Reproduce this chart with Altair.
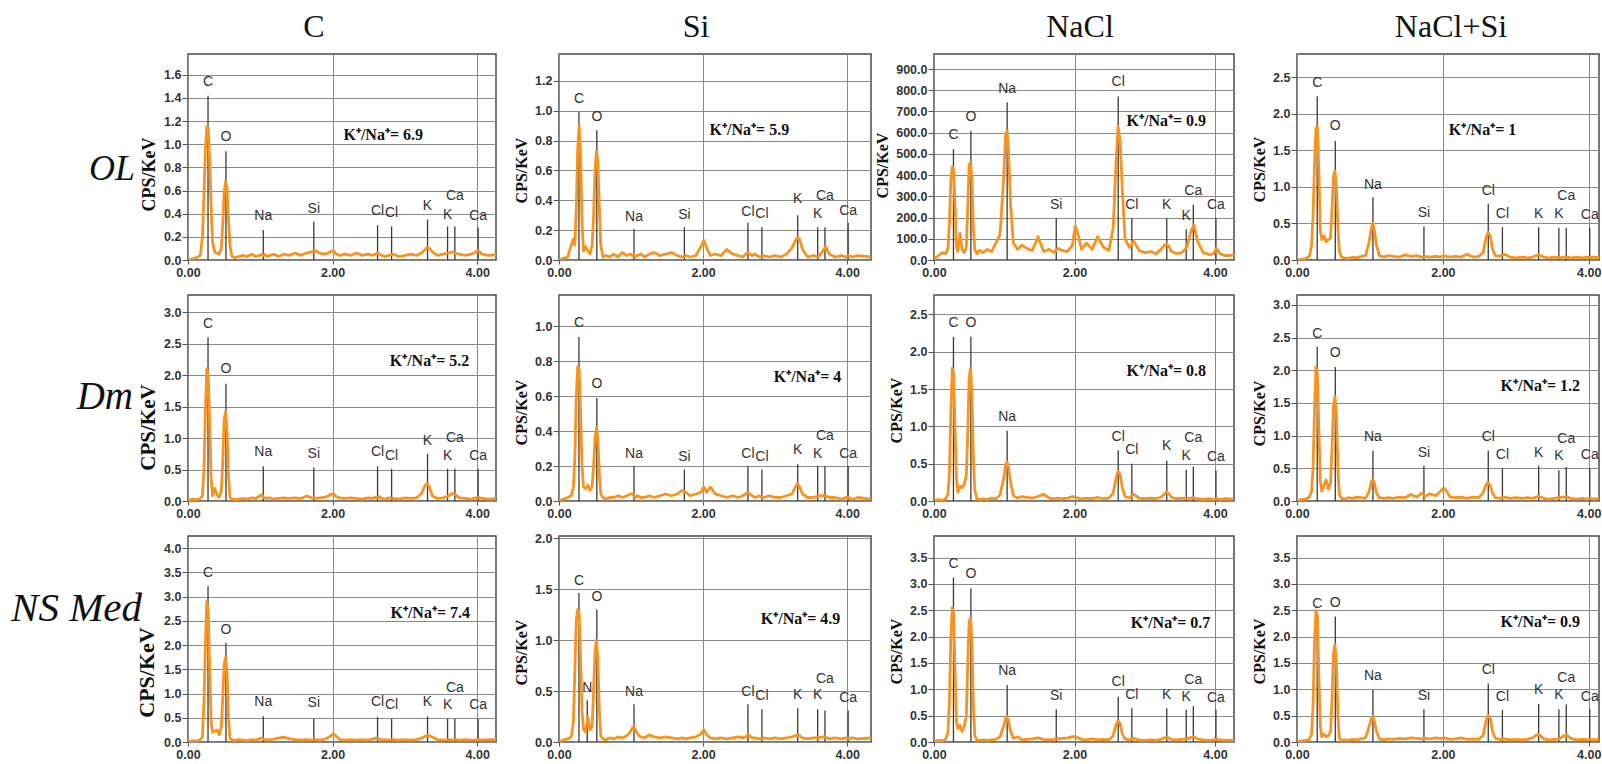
import altair as alt
import pandas as pd

# Energy grid (keV) shared by all spectra
ENERGY = [
    0.00, 0.06, 0.12, 0.17, 0.20, 0.22, 0.24, 0.26, 0.28, 0.30,
    0.32, 0.34, 0.37, 0.40, 0.43, 0.46, 0.48, 0.50, 0.52, 0.54,
    0.56, 0.58, 0.61, 0.65, 0.70, 0.76, 0.82, 0.88, 0.94, 0.99,
    1.02, 1.04, 1.06, 1.09, 1.13, 1.19, 1.25, 1.32, 1.40, 1.48,
    1.56, 1.64, 1.71, 1.76, 1.82, 1.90, 1.97, 2.01, 2.05, 2.10,
    2.17, 2.25, 2.33, 2.41, 2.49, 2.55, 2.59, 2.62, 2.65, 2.68,
    2.72, 2.78, 2.84, 2.92, 3.00, 3.08, 3.16, 3.23, 3.28, 3.31,
    3.34, 3.38, 3.45, 3.53, 3.60, 3.66, 3.70, 3.75, 3.83, 3.92,
    3.98, 4.02, 4.07, 4.15, 4.35,
]

# ---- spectra (CPS/keV), one list per tissue x treatment ----
OL_C = [
    0.00, 0.01, 0.02, 0.04, 0.20, 0.55, 0.95, 1.15, 1.14, 0.85,
    0.45, 0.15, 0.07, 0.06, 0.05, 0.10, 0.30, 0.58, 0.68, 0.62,
    0.35, 0.12, 0.03, 0.02, 0.03, 0.04, 0.03, 0.05, 0.03, 0.04,
    0.05, 0.04, 0.05, 0.03, 0.04, 0.05, 0.03, 0.05, 0.04, 0.06,
    0.04, 0.06, 0.07, 0.08, 0.06, 0.05, 0.07, 0.08, 0.05, 0.04,
    0.05, 0.04, 0.06, 0.04, 0.05, 0.04, 0.05, 0.06, 0.05, 0.04,
    0.03, 0.04, 0.05, 0.03, 0.04, 0.05, 0.04, 0.06, 0.09, 0.11,
    0.10, 0.07, 0.04, 0.05, 0.06, 0.07, 0.06, 0.05, 0.04, 0.05,
    0.07, 0.08, 0.05, 0.04, 0.05,
]
OL_SI = [
    0.00, 0.01, 0.02, 0.10, 0.14, 0.10, 0.35, 0.75, 0.90, 0.70,
    0.25, 0.06, 0.09, 0.06, 0.04, 0.10, 0.30, 0.60, 0.73, 0.66,
    0.35, 0.10, 0.02, 0.03, 0.02, 0.04, 0.02, 0.05, 0.03, 0.04,
    0.03, 0.04, 0.02, 0.03, 0.04, 0.02, 0.04, 0.05, 0.03, 0.04,
    0.05, 0.03, 0.02, 0.03, 0.02, 0.03, 0.09, 0.13, 0.08, 0.03,
    0.04, 0.03, 0.07, 0.04, 0.03, 0.02, 0.04, 0.05, 0.04, 0.03,
    0.04, 0.02, 0.03, 0.02, 0.03, 0.02, 0.04, 0.08, 0.13, 0.15,
    0.14, 0.07, 0.02, 0.03, 0.02, 0.06, 0.09, 0.04, 0.02, 0.03,
    0.02, 0.03, 0.02, 0.03, 0.02,
]
OL_NACL = [
    5, 20, 35, 30, 60, 180, 380, 440, 420, 250,
    60, 40, 125, 50, 35, 60, 250, 450, 460, 380,
    150, 50, 30, 45, 35, 50, 40, 80, 120, 380,
    590, 610, 520, 260, 80, 50, 70, 55, 45, 110,
    40, 50, 35, 55, 45, 40, 70, 160, 120, 50,
    80, 50, 110, 60, 45, 150, 450, 630, 560, 330,
    100, 60, 90, 45, 35, 40, 30, 50, 70, 75,
    65, 40, 30, 35, 60, 140, 165, 90, 35, 25,
    30, 55, 30, 20, 25,
]
OL_NACL_SI = [
    0.00, 0.01, 0.02, 0.05, 0.20, 0.60, 1.30, 1.80, 1.83, 1.20,
    0.40, 0.28, 0.33, 0.25, 0.28, 0.30, 0.70, 1.15, 1.22, 1.00,
    0.45, 0.12, 0.04, 0.03, 0.02, 0.04, 0.03, 0.05, 0.06, 0.25,
    0.45, 0.50, 0.42, 0.20, 0.06, 0.04, 0.06, 0.05, 0.04, 0.07,
    0.05, 0.06, 0.04, 0.05, 0.04, 0.05, 0.04, 0.06, 0.05, 0.04,
    0.05, 0.04, 0.08, 0.04, 0.05, 0.10, 0.30, 0.38, 0.33, 0.15,
    0.06, 0.05, 0.08, 0.04, 0.03, 0.04, 0.03, 0.04, 0.06, 0.07,
    0.06, 0.04, 0.03, 0.04, 0.03, 0.04, 0.04, 0.03, 0.04, 0.03,
    0.04, 0.03, 0.04, 0.03, 0.03,
]
DM_C = [
    0.00, 0.03, 0.02, 0.04, 0.08, 0.50, 1.40, 2.10, 2.00, 1.20,
    0.35, 0.08, 0.20, 0.10, 0.06, 0.15, 0.60, 1.30, 1.42, 1.10,
    0.40, 0.06, 0.03, 0.02, 0.03, 0.04, 0.03, 0.05, 0.04, 0.08,
    0.10, 0.07, 0.05, 0.04, 0.05, 0.03, 0.04, 0.05, 0.04, 0.05,
    0.04, 0.08, 0.05, 0.04, 0.05, 0.06, 0.10, 0.12, 0.07, 0.05,
    0.04, 0.05, 0.04, 0.03, 0.05, 0.04, 0.06, 0.05, 0.07, 0.04,
    0.03, 0.05, 0.04, 0.03, 0.05, 0.04, 0.05, 0.12, 0.25, 0.28,
    0.22, 0.08, 0.04, 0.05, 0.08, 0.12, 0.10, 0.05, 0.04, 0.03,
    0.05, 0.06, 0.04, 0.03, 0.04,
]
DM_SI = [
    0.00, 0.01, 0.02, 0.03, 0.08, 0.25, 0.60, 0.77, 0.75, 0.50,
    0.20, 0.08, 0.07, 0.09, 0.06, 0.08, 0.20, 0.36, 0.42, 0.35,
    0.15, 0.04, 0.02, 0.01, 0.02, 0.02, 0.03, 0.02, 0.03, 0.04,
    0.04, 0.03, 0.02, 0.03, 0.02, 0.02, 0.03, 0.02, 0.03, 0.04,
    0.03, 0.04, 0.06, 0.05, 0.03, 0.04, 0.05, 0.08, 0.05, 0.08,
    0.04, 0.03, 0.02, 0.03, 0.02, 0.03, 0.04, 0.05, 0.04, 0.03,
    0.02, 0.03, 0.02, 0.03, 0.02, 0.02, 0.03, 0.04, 0.08, 0.10,
    0.08, 0.04, 0.02, 0.02, 0.03, 0.03, 0.03, 0.02, 0.02, 0.01,
    0.02, 0.02, 0.01, 0.02, 0.01,
]
DM_NACL = [
    0.00, 0.02, 0.01, 0.03, 0.10, 0.40, 1.20, 1.78, 1.70, 0.90,
    0.30, 0.12, 0.20, 0.18, 0.22, 0.35, 0.90, 1.65, 1.78, 1.40,
    0.60, 0.15, 0.03, 0.02, 0.03, 0.02, 0.04, 0.03, 0.08, 0.30,
    0.48, 0.52, 0.45, 0.25, 0.07, 0.04, 0.06, 0.05, 0.04, 0.06,
    0.09, 0.04, 0.03, 0.04, 0.03, 0.04, 0.06, 0.05, 0.04, 0.03,
    0.04, 0.03, 0.05, 0.03, 0.04, 0.10, 0.30, 0.40, 0.35, 0.18,
    0.06, 0.04, 0.09, 0.04, 0.03, 0.04, 0.03, 0.05, 0.09, 0.12,
    0.10, 0.05, 0.03, 0.04, 0.03, 0.04, 0.04, 0.03, 0.02, 0.03,
    0.02, 0.03, 0.02, 0.03, 0.02,
]
DM_NACL_SI = [
    0.00, 0.02, 0.03, 0.06, 0.15, 0.50, 1.40, 2.05, 1.95, 1.10,
    0.30, 0.15, 0.25, 0.32, 0.18, 0.28, 0.80, 1.45, 1.60, 1.35,
    0.50, 0.10, 0.04, 0.03, 0.05, 0.04, 0.06, 0.05, 0.04, 0.15,
    0.30, 0.33, 0.28, 0.12, 0.05, 0.04, 0.05, 0.04, 0.06, 0.05,
    0.10, 0.06, 0.12, 0.07, 0.11, 0.08, 0.15, 0.20, 0.15, 0.06,
    0.05, 0.06, 0.04, 0.06, 0.05, 0.12, 0.25, 0.28, 0.24, 0.12,
    0.05, 0.04, 0.06, 0.04, 0.05, 0.04, 0.05, 0.04, 0.06, 0.07,
    0.06, 0.04, 0.03, 0.04, 0.05, 0.06, 0.07, 0.04, 0.03, 0.04,
    0.03, 0.04, 0.03, 0.04, 0.03,
]
NS_C = [
    0.00, 0.03, 0.02, 0.05, 0.10, 0.80, 2.00, 2.90, 2.70, 1.50,
    0.40, 0.20, 0.22, 0.25, 0.15, 0.30, 0.90, 1.60, 1.75, 1.40,
    0.50, 0.08, 0.04, 0.03, 0.05, 0.04, 0.03, 0.05, 0.04, 0.07,
    0.08, 0.06, 0.05, 0.04, 0.05, 0.06, 0.08, 0.10, 0.07, 0.05,
    0.04, 0.05, 0.04, 0.05, 0.04, 0.06, 0.12, 0.17, 0.12, 0.05,
    0.04, 0.05, 0.04, 0.05, 0.04, 0.06, 0.08, 0.07, 0.06, 0.04,
    0.05, 0.04, 0.05, 0.04, 0.05, 0.04, 0.05, 0.08, 0.12, 0.13,
    0.13, 0.10, 0.05, 0.04, 0.05, 0.04, 0.05, 0.04, 0.05, 0.04,
    0.04, 0.05, 0.04, 0.05, 0.04,
]
NS_SI = [
    0.00, 0.02, 0.03, 0.05, 0.20, 0.70, 1.20, 1.30, 1.25, 0.80,
    0.30, 0.12, 0.10, 0.25, 0.12, 0.15, 0.50, 0.90, 1.00, 0.80,
    0.30, 0.06, 0.03, 0.02, 0.04, 0.03, 0.05, 0.04, 0.06, 0.10,
    0.14, 0.15, 0.12, 0.08, 0.05, 0.04, 0.07, 0.05, 0.04, 0.05,
    0.04, 0.03, 0.04, 0.03, 0.04, 0.05, 0.08, 0.12, 0.07, 0.04,
    0.03, 0.04, 0.03, 0.04, 0.05, 0.04, 0.05, 0.07, 0.06, 0.04,
    0.04, 0.03, 0.04, 0.03, 0.04, 0.03, 0.04, 0.05, 0.06, 0.07,
    0.06, 0.04, 0.03, 0.04, 0.04, 0.05, 0.05, 0.03, 0.04, 0.03,
    0.04, 0.03, 0.04, 0.03, 0.04,
]
NS_NACL = [
    0.00, 0.03, 0.02, 0.06, 0.20, 0.80, 2.00, 2.55, 2.45, 1.30,
    0.40, 0.25, 0.32, 0.20, 0.30, 0.50, 1.50, 2.30, 2.35, 1.90,
    0.70, 0.12, 0.04, 0.03, 0.04, 0.03, 0.04, 0.05, 0.10, 0.30,
    0.45, 0.48, 0.40, 0.20, 0.07, 0.10, 0.04, 0.05, 0.06, 0.08,
    0.05, 0.04, 0.05, 0.06, 0.07, 0.08, 0.10, 0.10, 0.08, 0.05,
    0.04, 0.06, 0.04, 0.05, 0.04, 0.12, 0.32, 0.40, 0.35, 0.15,
    0.06, 0.04, 0.07, 0.04, 0.03, 0.04, 0.03, 0.05, 0.08, 0.09,
    0.08, 0.05, 0.04, 0.05, 0.06, 0.09, 0.10, 0.06, 0.04, 0.03,
    0.04, 0.05, 0.04, 0.03, 0.04,
]
NS_NACL_SI = [
    0.00, 0.02, 0.03, 0.05, 0.15, 0.70, 1.90, 2.50, 2.40, 1.20,
    0.30, 0.10, 0.15, 0.10, 0.12, 0.20, 0.80, 1.70, 1.85, 1.50,
    0.50, 0.08, 0.03, 0.04, 0.03, 0.05, 0.04, 0.06, 0.08, 0.30,
    0.45, 0.48, 0.40, 0.20, 0.06, 0.04, 0.06, 0.05, 0.07, 0.06,
    0.08, 0.07, 0.06, 0.07, 0.06, 0.08, 0.07, 0.08, 0.07, 0.05,
    0.06, 0.08, 0.05, 0.06, 0.05, 0.12, 0.40, 0.50, 0.45, 0.20,
    0.07, 0.05, 0.06, 0.04, 0.05, 0.04, 0.05, 0.08, 0.13, 0.14,
    0.12, 0.06, 0.04, 0.05, 0.06, 0.12, 0.13, 0.07, 0.04, 0.05,
    0.04, 0.05, 0.04, 0.05, 0.04,
]
SPECTRA = [
    [OL_C, OL_SI, OL_NACL, OL_NACL_SI],
    [DM_C, DM_SI, DM_NACL, DM_NACL_SI],
    [NS_C, NS_SI, NS_NACL, NS_NACL_SI],
]

# ---- X-ray line markers ----
LINE_KEV = {
    "C": 0.277, "N": 0.392, "O": 0.525, "Na": 1.041, "Si": 1.740,
    "Cl": 2.622, "Cl b": 2.816, "K": 3.313, "K b": 3.590,
    "Ca": 3.691, "Ca b": 4.013,
}
STD_LINES = ["C", "O", "Na", "Si", "Cl", "Cl b", "K", "K b", "Ca", "Ca b"]
NO_SI_LINES = ["C", "O", "Na", "Cl", "Cl b", "K", "K b", "Ca", "Ca b"]
N_LINES = ["C", "N", "O", "Na", "Cl", "Cl b", "K", "K b", "Ca", "Ca b"]
MARK_LINES = [
    [STD_LINES, STD_LINES, STD_LINES, STD_LINES],
    [STD_LINES, STD_LINES, NO_SI_LINES, STD_LINES],
    [STD_LINES, N_LINES, STD_LINES, STD_LINES],
]
MARK_TOP = [
    [
        [1.42, 0.94, 0.26, 0.33, 0.30, 0.29, 0.35, 0.29, 0.29, 0.28],
        [0.99, 0.87, 0.21, 0.22, 0.25, 0.22, 0.30, 0.22, 0.22, 0.25],
        [522, 609, 743, 197, 771, 197, 197, 145, 260, 197],
        [2.24, 1.63, 0.86, 0.46, 0.77, 0.45, 0.45, 0.44, 0.44, 0.44],
    ],
    [
        [2.60, 1.86, 0.55, 0.53, 0.55, 0.51, 0.75, 0.51, 0.51, 0.51],
        [0.94, 0.59, 0.20, 0.18, 0.20, 0.18, 0.21, 0.20, 0.20, 0.20],
        [2.20, 2.20, 0.94, 0.68, 0.50, 0.54, 0.42, 0.46, 0.41],
        [2.36, 2.05, 0.77, 0.54, 0.77, 0.50, 0.54, 0.47, 0.52, 0.50],
    ],
    [
        [3.22, 2.05, 0.53, 0.48, 0.52, 0.48, 0.53, 0.48, 0.48, 0.48],
        [1.46, 0.41, 1.30, 0.37, 0.37, 0.32, 0.33, 0.32, 0.31, 0.31],
        [3.12, 2.92, 1.08, 0.62, 0.86, 0.64, 0.64, 0.61, 0.68, 0.61],
        [2.36, 2.38, 0.99, 0.62, 1.11, 0.61, 0.72, 0.62, 0.71, 0.62],
    ],
]
MARK_LABEL_Y = [
    [
        [1.54, 1.06, 0.38, 0.44, 0.42, 0.41, 0.47, 0.39, 0.55, 0.38],
        [1.08, 0.96, 0.29, 0.30, 0.32, 0.31, 0.41, 0.31, 0.43, 0.33],
        [590, 675, 805, 260, 837, 260, 260, 208, 326, 260],
        [2.42, 1.83, 1.03, 0.64, 0.95, 0.63, 0.63, 0.63, 0.87, 0.62],
    ],
    [
        [2.81, 2.09, 0.77, 0.75, 0.78, 0.72, 0.96, 0.72, 1.00, 0.72],
        [1.02, 0.67, 0.27, 0.25, 0.27, 0.25, 0.29, 0.27, 0.37, 0.27],
        [2.38, 2.38, 1.13, 0.86, 0.68, 0.74, 0.60, 0.84, 0.59],
        [2.56, 2.27, 0.98, 0.74, 0.98, 0.70, 0.74, 0.69, 0.95, 0.70],
    ],
    [
        [3.48, 2.32, 0.82, 0.81, 0.82, 0.77, 0.82, 0.77, 1.12, 0.77],
        [1.58, 0.53, 1.42, 0.49, 0.49, 0.45, 0.46, 0.46, 0.62, 0.43],
        [3.38, 3.18, 1.34, 0.87, 1.13, 0.89, 0.89, 0.85, 1.18, 0.83],
        [2.61, 2.63, 1.25, 0.87, 1.37, 0.86, 0.99, 0.89, 1.21, 0.86],
    ],
]

# ---- K+/Na+ ratios and where they are written (keV, CPS/keV) ----
RATIO = [["6.9", "5.9", "0.9", "1"], ["5.2", "4", "0.8", "1.2"], ["7.4", "4.9", "0.7", "0.9"]]
RATIO_KEV = [[2.15, 2.09, 2.74, 2.08], [2.79, 2.98, 2.74, 2.79], [2.80, 2.80, 2.80, 2.79]]
RATIO_CPS = [[1.08, 0.87, 656, 1.78], [2.22, 0.71, 1.74, 1.76], [2.66, 1.21, 2.26, 2.27]]

COLS = ["C", "Si", "NaCl", "NaCl+Si"]
ROWS = ["OL", "Dm", "NS Med"]

# axis ranges
COL_KEV_MAX = [4.26, 4.33, 4.27, 4.14]
Y_MAX = [[1.78, 1.38, 971, 2.82], [3.27, 1.18, 2.76, 3.15], [4.25, 2.02, 3.91, 3.91]]
Y_TOP_TICK = [[1.6, 1.2, 900, 2.5], [3.0, 1.0, 2.5, 3.0], [4.0, 2.0, 3.5, 3.5]]
Y_STEP = [[0.2, 0.2, 100, 0.5], [0.5, 0.2, 0.5, 0.5], [0.5, 0.5, 0.5, 0.5]]

# layout / style
COL_WIDTH = [308, 312, 300, 302]
PANEL_H = 206
TITLE_DX = [-28, -19, -4, 3]
ROW_LABEL_DX = [-53, -55, -46]
ROW_LABEL_Y = [115, 102, 73]
ROW_LABEL_SIZE = [36, 39, 41]
# y-axis title size and vertical centre (px from plot top), per row x column
YTITLE_SIZE = [[18, 16, 16, 16], [21, 16, 16, 16], [22, 16, 16, 16]]
YTITLE_Y = [[120, 116, 111, 115], [132, 117, 115, 118], [136, 116, 115, 115]]
ORANGE = "#F7931E"
SANS = "Liberation Sans"
SERIF = "Liberation Serif"


def x_enc(field, c):
    return alt.X(
        f"{field}:Q",
        scale=alt.Scale(domain=[0, COL_KEV_MAX[c]], nice=False, zero=False),
        axis=alt.Axis(
            values=[0, 2, 4], format=".2f", title=None, grid=True,
            gridColor="#8a8a8a", gridWidth=1, domain=False,
            tickSize=4, tickColor="#555", labelFlush=False,
            labelFont=SANS, labelFontWeight="bold", labelFontSize=12.5,
            labelColor="#333", labelPadding=2,
        ),
    )


def y_enc(field, r, c):
    top, step = Y_TOP_TICK[r][c], Y_STEP[r][c]
    ticks = [round(i * step, 3) for i in range(int(round(top / step)) + 1)]
    return alt.Y(
        f"{field}:Q",
        scale=alt.Scale(domain=[0, Y_MAX[r][c]], nice=False, zero=False),
        axis=alt.Axis(
            values=ticks, format=".1f", title="CPS/KeV", grid=True,
            gridColor="#8a8a8a", gridWidth=1, domain=False,
            tickSize=6, tickColor="#555", labelPadding=1,
            labelFont=SANS, labelFontWeight="bold", labelFontSize=12.5,
            labelColor="#333", titleFont=SERIF, titleFontWeight="bold",
            titleFontSize=YTITLE_SIZE[r][c], titleColor="#111",
            titlePadding=5, titleY=YTITLE_Y[r][c],
        ),
    )


def panel(r, c):
    spec = pd.DataFrame({"keV": ENERGY, "cps": SPECTRA[r][c]})
    keys = MARK_LINES[r][c]
    marks = pd.DataFrame({
        "keV": [LINE_KEV[k] for k in keys],
        "el": [k.split()[0] for k in keys],
        "top": MARK_TOP[r][c],
        "lab": MARK_LABEL_Y[r][c],
        "floor": [0.0] * len(keys),
    })
    ratio = pd.DataFrame({
        "keV": [RATIO_KEV[r][c]],
        "cps": [RATIO_CPS[r][c]],
        "txt": ["K\u207a/Na\u207a= " + RATIO[r][c]],
    })

    rules = alt.Chart(marks).mark_rule(color="#3a3a3a", strokeWidth=1.3).encode(
        x=x_enc("keV", c), y=y_enc("top", r, c), y2="floor:Q"
    )
    line = alt.Chart(spec).mark_line(
        color=ORANGE, strokeWidth=2.8, clip=True, strokeJoin="round"
    ).encode(x=x_enc("keV", c), y=y_enc("cps", r, c))
    names = alt.Chart(marks).mark_text(
        font=SANS, fontSize=14, color="#333", baseline="middle"
    ).encode(x=x_enc("keV", c), y=y_enc("lab", r, c), text="el:N")
    note = alt.Chart(ratio).mark_text(
        font=SERIF, fontWeight="bold", fontSize=16, color="#111",
        align="left", baseline="middle"
    ).encode(x=x_enc("keV", c), y=y_enc("cps", r, c), text="txt:N")

    layers = [rules, line, names, note]
    if c == 0:
        row_lab = alt.Chart(pd.DataFrame({"row": [ROWS[r]]})).mark_text(
            font=SERIF, fontStyle="italic", fontSize=ROW_LABEL_SIZE[r],
            color="#111", align="right", baseline="middle",
        ).encode(
            x=alt.value(ROW_LABEL_DX[r]), y=alt.value(ROW_LABEL_Y[r]), text="row:N"
        )
        layers.append(row_lab)

    props = dict(width=COL_WIDTH[c], height=PANEL_H)
    if r == 0:
        props["title"] = alt.TitleParams(
            text=COLS[c], font=SERIF, fontSize=32, fontWeight="normal",
            color="#111", anchor="middle", offset=10, dx=TITLE_DX[c],
        )
    return alt.layer(*layers).properties(**props)


panels = [panel(r, c) for r in range(3) for c in range(4)]
chart = alt.concat(
    *panels, columns=4, spacing={"row": 35, "column": 63},
    bounds="flush", align="each",
).properties(
    padding={"left": 10, "top": 10, "right": 0, "bottom": 0},
    background="white",
).configure_view(stroke="#4a4a4a", strokeWidth=1.5)

chart.save("out.html", embed_options={"renderer": "svg", "actions": False})
